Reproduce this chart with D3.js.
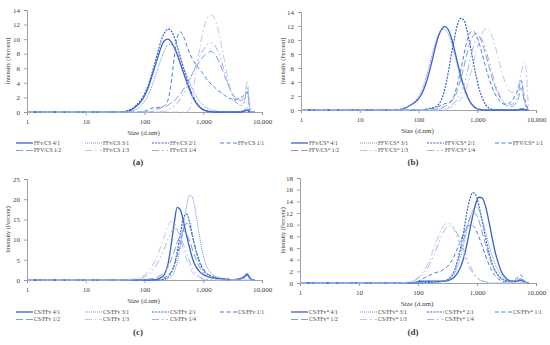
<!DOCTYPE html>
<html><head><meta charset="utf-8">
<script src="https://cdn.jsdelivr.net/npm/d3@7"></script>
<style>
body{margin:0;background:#fff}
text{font-family:"Liberation Serif","DejaVu Serif",serif;fill:#404040}
</style></head><body>
<svg id="chart" width="550" height="345"></svg>
<script>
// size classes (d.nm) shared by every curve
var sizes = [1,20,30,40,50,60,70,80,90,100,115,130,150,170,190,220,250,280,320,360,410,460,520,590,660,750,850,960,1080,1220,1380,1560,1760,2000,2300,2600,3000,3400,3900,4400,5000,5560,6440,7460]
var xTicks = [1,10,100,1000,10000]

// (a) FFv/CS
var namesA = ["FFv/CS 4/1","FFv/CS 3/1","FFv/CS 2/1","FFv/CS 1/1","FFV/CS 1/2","FFv/CS 1/3","FFv/CS 1/4"]
var a41 = [0,0,0,0, 0.1,0.3,0.7,1.1,1.6,2.2, 3.3,4.6,6.2,7.6,8.8, 9.8,10.0,9.7,8.9,7.9, 6.6,5.4,4.2,3.0,2.1, 1.3,0.75,0.4,0.2,0.1, 0.05,0,0,0,0, 0,0,0,0,0, 0.15,0.3,0,0]
var a31 = [0,0,0,0, 0,0.1,0.3,0.6,1.0,1.5, 2.3,3.3,4.7,6.0,7.2, 8.5,9.2,9.3,8.9,8.2, 7.2,6.2,5.1,4.0,3.1, 2.3,1.6,1.1,0.7,0.45, 0.3,0.2,0.1,0.05,0, 0,0,0,0,0.1, 0.3,0.6,0,0]
var a21 = [0,0,0,0, 0.15,0.4,0.8,1.3,1.8,2.5, 3.6,5.0,6.7,8.3,9.7, 10.9,11.4,11.2,10.3,9.0, 7.5,6.0,4.6,3.3,2.3, 1.4,0.8,0.4,0.2,0.1, 0,0,0,0,0, 0,0,0,0,0, 0.1,0.2,0,0]
var a11 = [0,0,0,0, 0,0,0,0,0,0.1, 0.3,0.5,0.6,0.6,0.7, 0.9,1.6,3.6,7.4,10.2, 11.0,10.4,9.2,8.0,7.2, 6.5,6.0,5.4,4.8,4.2, 3.8,3.4,3.0,2.7,2.3, 2.0,1.8,1.7,1.8,2.0, 2.3,2.8,0,0]
var a12 = [0,0,0,0, 0,0,0,0,0,0, 0,0,0.3,0.4,0.6, 0.7,0.9,1.2,1.5,2.0, 2.5,3.1,3.8,4.6,5.3, 6.1,6.8,7.4,7.9,8.2, 8.3,8.0,7.3,6.3,5.0, 3.9,2.8,2.1,1.7,1.6, 1.9,2.8,0,0]
var a13 = [0,0,0,0, 0,0,0,0,0,0, 0,0,0,0,0, 0,0,0,0,0, 0,0,0,0.5,2.5, 5.5,8.2,10.5,12.2,13.1, 13.3,12.8,11.5,9.5,7.0, 4.8,2.8,1.6,1.0,0.9, 1.5,4.3,0,0]
var a14 = [0,0,0,0, 0,0,0,0,0,0, 0,0,0,0,0, 0,0.3,0.5,0.8,1.2, 1.8,2.5,3.3,4.3,5.3, 6.4,7.4,8.3,8.9,9.4, 9.5,9.2,8.4,7.2,5.6, 4.1,2.7,1.7,1.1,0.9, 1.2,3.5,0,0]

// (b) FFv/CS*
var namesB = ["FFv/CS* 4/1","FFV/CS* 3/1","FFV/CS* 2/1","FFV/CS* 1/1","FFV/CS* 1/2","FFV/CS* 1/3","FFV/CS* 1/4"]
var b41 = [0,0,0,0, 0.1,0.3,0.6,0.9,1.2,1.6, 2.4,3.5,5.2,7.0,8.7, 10.6,11.6,11.9,11.5,10.4, 8.6,6.8,5.0,3.4,2.2, 1.2,0.6,0.25,0.1,0, 0,0,0,0,0, 0,0,0,0,0, 0,0.1,0.05,0]
var b31 = [0,0,0,0, 0.1,0.3,0.6,1.0,1.4,1.9, 2.9,4.2,6.1,7.9,9.4, 10.9,11.5,11.5,10.9,9.7, 8.0,6.3,4.6,3.1,2.0, 1.1,0.5,0.2,0.1,0, 0,0,0,0,0, 0,0,0,0,0, 0,0,0,0]
var b21 = [0,0,0,0, 0,0,0,0,0,0, 0,0.1,0.2,0.3,0.4, 0.8,1.6,3.0,5.3,7.8, 10.3,12.2,13.1,12.9,11.6, 9.4,7.0,4.8,3.0,1.7, 0.8,0.3,0.1,0,0, 0,0,0,0,0, 0,0.2,0.1,0]
var b11 = [0,0,0,0, 0,0,0,0,0,0, 0,0,0.1,0.2,0.3, 0.5,0.7,0.9,1.0,1.3, 2.2,3.7,5.6,7.8,9.7, 11.0,11.3,10.7,9.5,7.9, 6.2,4.7,3.4,2.3,1.5, 1.0,0.8,0.9,1.3,2.0, 3.0,4.2,1.5,0]
var b12 = [0,0,0,0, 0,0,0,0,0,0, 0,0,0,0,0.1, 0.2,0.3,0.5,0.8,1.2, 1.8,2.8,4.3,6.1,7.9, 9.6,10.6,10.9,10.5,9.5, 8.0,6.4,4.8,3.4,2.2, 1.4,0.8,0.5,0.5,0.8, 1.6,3.2,1.0,0]
var b13 = [0,0,0,0, 0,0,0,0,0,0, 0,0,0,0,0, 0,0,0.1,0.2,0.4, 0.6,1.0,1.5,2.3,3.2, 4.8,6.6,8.4,9.9,11.0, 11.6,11.5,10.7,9.2,7.3, 5.5,3.9,2.9,2.5,2.6, 3.4,5.2,6.8,0]
var b14 = [0,0,0,0, 0,0,0,0,0,0, 0,0,0,0,0, 0,0.1,0.2,0.4,0.7, 1.0,1.6,2.3,3.5,5.0, 7.0,8.9,10.1,10.5,10.0, 8.8,7.2,5.5,3.9,2.5, 1.6,1.0,0.7,0.8,1.2, 2.2,4.3,1.0,0]

// (c) CS/FFv
var namesC = ["CS/FFv 4/1","CS/FFv 3/1","CS/FFv 2/1","CS/FFv 1/1","CS/FFv 1/2","CS/FFv 1/3","CS/FFv 1/4"]
var c41 = [0,0,0,0, 0,0,0,0,0,0, 0,0,0.1,0.3,0.6, 1.5,3.8,8.0,14.0,18.0, 17.3,14.5,11.0,7.8,5.2, 3.3,2.2,1.5,1.1,0.8, 0.6,0.5,0.4,0.3,0.2, 0.2,0.1,0.1,0.2,0.4, 0.8,1.5,0.3,0]
var c31 = [0,0,0,0, 0,0,0,0,0,0, 0,0,0,0,0, 0.1,0.3,0.8,2.0,4.5, 8.5,13.5,18.3,21.0,20.3, 16.5,11.5,7.2,4.3,2.6, 1.6,1.0,0.7,0.5,0.3, 0.2,0.1,0.1,0.2,0.5, 1.0,1.3,0.3,0]
var c21 = [0,0,0,0, 0,0,0,0,0,0, 0,0,0,0,0.1, 0.3,0.7,1.6,3.6,7.0, 11.5,15.5,16.3,14.2,10.8, 7.3,4.6,2.9,1.9,1.3, 0.9,0.6,0.4,0.3,0.2, 0.1,0.1,0.1,0.2,0.3, 0.8,1.2,0.2,0]
var c11 = [0,0,0,0, 0,0,0,0,0,0, 0,0,0.1,0.2,0.3, 0.6,1.1,2.0,3.6,6.0, 9.3,12.5,14.0,13.2,10.6, 7.5,5.0,3.2,2.1,1.4, 1.0,0.7,0.5,0.3,0.2, 0.1,0.1,0.1,0.2,0.4, 1.0,1.6,0.3,0]
var c12 = [0,0,0,0, 0,0,0,0,0,0.1, 0.2,0.3,0.5,0.8,1.2, 2.0,3.2,4.8,7.0,9.3, 11.2,12.0,11.4,9.6,7.4, 5.2,3.4,2.1,1.3,0.8, 0.5,0.3,0.2,0.1,0, 0,0,0,0,0.2, 0.5,0.9,0.2,0]
var c13 = [0,0,0,0, 0.1,0.2,0.3,0.5,0.8,1.2, 2.0,3.0,4.6,6.4,8.3, 11.0,13.3,14.5,14.2,12.6, 10.0,7.4,5.0,3.1,1.8, 1.0,0.5,0.2,0.1,0, 0,0,0,0,0, 0,0,0,0,0, 0,0,0,0]
var c14 = [0,0,0,0, 0,0.1,0.2,0.3,0.5,0.8, 1.3,2.0,3.1,4.4,5.8, 7.9,10.0,11.6,12.6,12.3, 10.9,8.8,6.5,4.4,2.8, 1.6,0.9,0.4,0.2,0.1, 0,0,0,0,0, 0,0,0,0,0, 0,0,0,0]

// (d) CS/FFv*
var namesD = ["CS/FFv* 4/1","CS/FFv* 3/1","CS/FFv* 2/1","CS/FFv* 1/1","CS/FFv* 1/2","CS/FFv* 1/3","CS/FFv* 1/4"]
var d41 = [0,0,0,0, 0,0,0,0,0.1,0.2, 0.3,0.3,0.3,0.3,0.3, 0.3,0.3,0.3,0.4,0.6, 1.0,1.6,2.6,4.2,6.2, 8.9,11.6,13.7,14.7,14.6, 13.3,11.0,8.3,5.6,3.4, 1.9,1.0,0.5,0.3,0.3, 0.4,0.5,0.2,0]
var d31 = [0,0,0,0, 0,0,0,0,0,0, 0,0,0,0,0.1, 0.1,0.2,0.3,0.5,0.7, 1.4,2.6,4.3,6.5,8.8, 11.0,12.5,13.0,12.5,11.0, 9.0,6.9,5.0,3.4,2.1, 1.3,0.7,0.4,0.3,0.4, 0.6,0.8,0.2,0]
var d21 = [0,0,0,0, 0,0,0,0,0,0, 0,0.1,0.1,0.1,0.2, 0.2,0.3,0.4,0.6,1.0, 2.0,3.6,5.8,8.6,11.6, 14.3,15.5,15.0,13.2,10.7, 8.0,5.6,3.7,2.3,1.3, 0.8,0.5,0.3,0.2,0.2, 0.3,0.4,0.1,0]
var d11 = [0,0,0,0, 0,0,0,0.1,0.2,0.3, 0.6,0.9,1.2,1.5,1.7, 1.9,2.1,2.4,2.9,3.6, 4.6,5.8,7.1,8.4,9.4, 9.9,9.8,9.1,7.9,6.4, 4.8,3.4,2.2,1.3,0.7, 0.4,0.2,0.2,0.3,0.6, 1.0,1.4,0.3,0]
var d12 = [0,0,0,0, 0,0,0,0,0,0.1, 0.1,0.2,0.2,0.2,0.2, 0.3,0.3,0.4,0.6,1.1, 2.0,3.4,5.2,7.3,9.3, 11.0,12.0,11.8,10.6,8.8, 6.8,4.9,3.3,2.1,1.2, 0.7,0.4,0.2,0.2,0.3, 0.5,0.7,0.2,0]
var d13 = [0,0,0,0, 0,0.1,0.2,0.4,0.6,0.9, 1.5,2.3,3.5,4.9,6.2, 7.9,9.2,10.0,10.3,10.0, 9.1,7.9,6.5,5.0,3.7, 2.5,1.6,1.0,0.6,0.3, 0.1,0,0,0,0, 0,0,0,0,0, 0,0,0,0]
var d14 = [0,0,0,0, 0,0,0.1,0.3,0.5,0.8, 1.3,1.9,2.8,3.9,5.0, 6.6,8.0,9.0,9.7,9.8, 9.4,8.5,7.2,5.8,4.4, 3.1,2.0,1.2,0.7,0.4, 0.2,0.1,0,0,0, 0,0,0,0,0, 0,0,0,0]

// line look of the 7 ratios, same order in every panel
var styles = [
  {c:"#3a62c4", w:1.3, dash:null},
  {c:"#6f8edb", w:1, dash:"1,1"},
  {c:"#3566d0", w:1.2, dash:"2,1.2"},
  {c:"#4d7ddf", w:1, dash:"4,2.5"},
  {c:"#7d9de6", w:1, dash:"7,3"},
  {c:"#b8c8ef", w:1, dash:"7,3,1.5,3"},
  {c:"#9db3e9", w:1, dash:"7,3,1.5,3,1.5,3"}
]

var panels = [
  {names:namesA, series:[a41,a31,a21,a11,a12,a13,a14], x0:27, x1:262, top:10, bot:112, ymax:14, step:2, dx:0, ly:143, tag:"(a)", tagY:165},
  {names:namesB, series:[b41,b31,b21,b11,b12,b13,b14], x0:301, x1:536, top:12, bot:110, ymax:14, step:2, dx:275, ly:143, tag:"(b)", tagY:165},
  {names:namesC, series:[c41,c31,c21,c11,c12,c13,c14], x0:27, x1:262, top:179, bot:280, ymax:25, step:5, dx:0, ly:312, tag:"(c)", tagY:335},
  {names:namesD, series:[d41,d31,d21,d11,d12,d13,d14], x0:300, x1:536, top:178, bot:283, ymax:18, step:2, dx:275, ly:312, tag:"(d)", tagY:335}
]

var svg = d3.select("#chart")
svg.append("rect").attr("width",550).attr("height",345).attr("fill","#fff")

var legX = [34,103,170,238]

panels.forEach(function(p){
  var g = svg.append("g")
  var x = d3.scaleLog().domain([1,10000]).range([p.x0,p.x1])
  var y = d3.scaleLinear().domain([0,p.ymax]).range([p.bot,p.top])

  g.append("g").attr("transform","translate(0,"+p.bot+")")
    .call(d3.axisBottom(x).tickValues(xTicks).tickFormat(d3.format(",")).tickSize(3).tickPadding(4))
  g.append("g").attr("transform","translate("+p.x0+",0)")
    .call(d3.axisLeft(y).tickValues(d3.range(0,p.ymax+0.1,p.step)).tickSize(3).tickPadding(4))
  g.selectAll(".domain").attr("stroke","#8c8c8c").attr("stroke-width",0.8)
  g.selectAll(".tick line").attr("stroke","#8c8c8c").attr("stroke-width",0.8)
  g.selectAll(".tick text").attr("font-size","7px").attr("fill","#404040").attr("font-family","Liberation Serif, serif")

  var line = d3.line()
    .x(function(d){return x(d[0])})
    .y(function(d){return y(d[1])})
    .curve(d3.curveMonotoneX)

  p.series.forEach(function(vals,i){
    var pts = sizes.map(function(s,k){return [s,vals[k]]})
    var st = styles[i]
    g.append("path").attr("d",line(pts)).attr("fill","none")
      .attr("stroke",st.c).attr("stroke-width",st.w)
      .attr("stroke-dasharray",st.dash)
  })

  // axis titles
  g.append("text").attr("x",(p.x0+p.x1)/2 - 1).attr("y",p.bot+23)
    .attr("text-anchor","middle").attr("font-size","7px").text("Size (d.nm)")
  g.append("text").attr("transform","translate("+(p.dx+10)+","+((p.top+p.bot)/2)+") rotate(-90)")
    .attr("text-anchor","middle").attr("font-size","6.3px").text("Intensity (Percent)")

  // legend: 4 + 3
  p.names.forEach(function(n,i){
    var col = i<4 ? i : i-4
    var row = i<4 ? 0 : 1
    var tx = p.dx + legX[col]
    var ty = p.ly + row*7.5
    var st = styles[i]
    g.append("line").attr("x1",tx-18).attr("x2",tx-1).attr("y1",ty).attr("y2",ty)
      .attr("stroke",st.c).attr("stroke-width",st.w).attr("stroke-dasharray",st.dash)
    g.append("text").attr("x",tx).attr("y",ty+1.9).attr("font-size","5.6px").text(n)
  })

  g.append("text").attr("x",p.dx+138).attr("y",p.tagY)
    .attr("text-anchor","middle").attr("font-size","9px").attr("font-weight","bold")
    .attr("fill","#222").text(p.tag)
})
</script></body></html>
